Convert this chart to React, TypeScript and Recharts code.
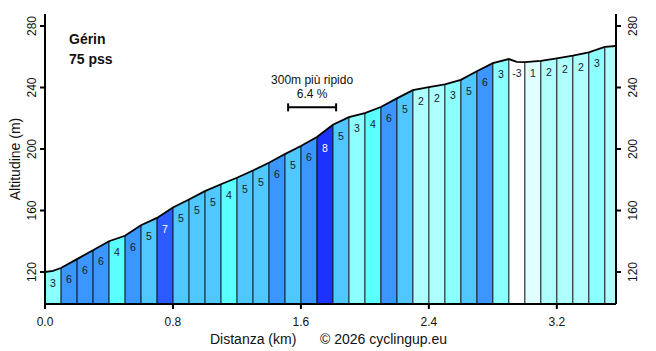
import React from 'react';
import { ComposedChart, Area, Line, XAxis, YAxis, ReferenceLine, Scatter } from 'recharts';

// ---- data ----
const distances = [
  0.0, 0.1, 0.2, 0.3, 0.4, 0.5, 0.6, 0.7, 0.8, 0.9,
  1.0, 1.1, 1.2, 1.3, 1.4, 1.5, 1.6, 1.7, 1.8, 1.9,
  2.0, 2.1, 2.2, 2.3, 2.4, 2.5, 2.6, 2.7, 2.8, 2.9,
  3.0, 3.1, 3.2, 3.3, 3.4, 3.5, 3.57,
];
const elevations = [
  120.0, 122.6, 128.4, 134.2, 140.0, 143.6, 150.4, 155.2, 162.0, 167.2,
  172.6, 177.1, 181.3, 186.0, 191.1, 196.7, 202.0, 207.8, 215.8, 220.7,
  223.4, 227.3, 232.9, 238.3, 240.2, 242.1, 245.0, 250.6, 255.8, 258.5,
  256.5, 257.3, 259.0, 260.8, 262.9, 266.4, 267.0,
];
// extra profile points inside segments
const detailDistances = [0.05, 2.95];
const detailElevations = [120.8, 256.7];
// gradient label for each segment (null = no label)
const grades = [
  3, 6, 6, 6, 4, 6, 5, 7, 5, 5,
  5, 4, 5, 5, 6, 5, 6, 8, 5, 3,
  4, 6, 5, 2, 2, 3, 5, 6, 3, -3,
  1, 2, 2, 2, 3, null,
];
const segmentColorGrades = [
  3, 6, 6, 6, 4, 6, 5, 7, 5, 5,
  5, 4, 5, 5, 6, 5, 6, 8, 5, 3,
  4, 6, 5, 2, 2, 3, 5, 6, 3, -3,
  1, 2, 2, 2, 3, 2,
];
const xTicks = [0, 0.8, 1.6, 2.4, 3.2];
const yTicks = [120, 160, 200, 240, 280];
const climbName = 'Gérin';
const climbScore = '75 pss';
const steepTitle = '300m più ripido';
const steepValue = '6.4 %';
const steepStart = 1.52;
const steepEnd = 1.82;
const steepLevel = 227.1;
const xTitle = 'Distanza (km)';
const yTitle = 'Altitudine (m)';
const credit = '© 2026 cyclingup.eu';

// ---- styles ----
const X_DOMAIN: [number, number] = [0, 3.57];
const Y_DOMAIN: [number, number] = [99.2, 287.8];
const FONT = '"Liberation Sans", Arial, Helvetica, sans-serif';
const W = 656;
const H = 351;

function gradeColor(g: number): string {
  if (g <= 0) return '#ffffff';
  if (g <= 1) return '#e0ffff';
  if (g <= 2) return '#b0ffff';
  if (g <= 3) return '#8cffff';
  if (g <= 4) return '#5affff';
  if (g <= 5) return '#50c8ff';
  if (g <= 6) return '#3c96ff';
  if (g <= 7) return '#2d5aff';
  return '#1e32ff';
}

const profile = [
  ...distances.map((d, i) => ({ x: d, y: elevations[i] })),
  ...detailDistances.map((d, i) => ({ x: d, y: detailElevations[i] })),
].sort((a, b) => a.x - b.x);

const segments = distances.slice(0, -1).map((d0, i) => {
  const d1 = distances[i + 1];
  return {
    color: gradeColor(segmentColorGrades[i]),
    data: profile.filter((p) => p.x >= d0 - 1e-9 && p.x <= d1 + 1e-9),
  };
});

const labelPoints = grades
  .map((g, i) =>
    g === null
      ? null
      : {
          x: (distances[i] + distances[i + 1]) / 2,
          y: Math.min(elevations[i], elevations[i + 1]),
          g,
        }
  )
  .filter((p) => p !== null) as { x: number; y: number; g: number }[];

const GradeLabel = (props: any) => {
  const { cx, cy, payload } = props;
  if (cx == null || cy == null) return null;
  const g = payload.g;
  return (
    <text
      x={cx}
      y={cy + 15}
      textAnchor="middle"
      fontFamily={FONT}
      fontSize={10.5}
      fill={g >= 7 ? '#ffffff' : '#1a1a2a'}
    >
      {g}
    </text>
  );
};

const LeftTick = (props: any) => {
  const { x, y, payload } = props;
  const bx = x - 1.5;
  return (
    <text x={bx} y={y} transform={`rotate(-90 ${bx} ${y})`} textAnchor="middle" fontFamily={FONT} fontSize={12} fill="#111">
      {payload.value}
    </text>
  );
};

const RightTick = (props: any) => {
  const { x, y, payload } = props;
  const bx = x + 14;
  return (
    <text x={bx} y={y} transform={`rotate(-90 ${bx} ${y})`} textAnchor="middle" fontFamily={FONT} fontSize={12} fill="#111">
      {payload.value}
    </text>
  );
};

const BottomTick = (props: any) => {
  const { x, y, payload } = props;
  return (
    <text x={x} y={y + 15} textAnchor="middle" fontFamily={FONT} fontSize={12} fill="#111">
      {Number(payload.value).toFixed(1)}
    </text>
  );
};

const BracketLabel = (props: any) => {
  const vb = props.viewBox || {};
  const cx = (vb.x ?? 0) + (vb.width ?? 0) / 2;
  const y = vb.y ?? 0;
  return (
    <g>
      <text x={cx} y={y - 23.5} textAnchor="middle" fontFamily={FONT} fontSize={12} fill="#111">
        {steepTitle}
      </text>
      <text x={cx} y={y - 9.5} textAnchor="middle" fontFamily={FONT} fontSize={12} fill="#111">
        {steepValue}
      </text>
    </g>
  );
};

export default function App() {
  const capHalf = 2.6;
  return (
    <div style={{ position: 'absolute', left: 0, top: 0, width: W, height: H, background: '#fff' }}>
      <ComposedChart width={W} height={H} margin={{ top: 14, right: 0, bottom: 0, left: 0 }}>
        <XAxis
          type="number"
          dataKey="x"
          domain={X_DOMAIN}
          allowDataOverflow
          ticks={xTicks}
          tick={<BottomTick />}
          tickSize={5}
          tickLine={{ stroke: '#000', strokeWidth: 2 }}
          axisLine={{ stroke: '#000', strokeWidth: 2 }}
          height={47}
          interval={0}
        />
        <XAxis
          xAxisId="top"
          orientation="top"
          type="number"
          dataKey="x"
          domain={X_DOMAIN}
          allowDataOverflow
          tick={false}
          tickLine={false}
          axisLine={{ stroke: '#000', strokeWidth: 2 }}
          height={0}
        />
        <YAxis
          type="number"
          dataKey="y"
          domain={Y_DOMAIN}
          allowDataOverflow
          ticks={yTicks}
          tick={<LeftTick />}
          tickSize={5}
          tickLine={{ stroke: '#000', strokeWidth: 2 }}
          axisLine={{ stroke: '#000', strokeWidth: 2 }}
          width={45}
          interval={0}
        />
        <YAxis
          yAxisId="right"
          orientation="right"
          type="number"
          dataKey="y"
          domain={Y_DOMAIN}
          allowDataOverflow
          ticks={yTicks}
          tick={<RightTick />}
          tickSize={5}
          tickLine={{ stroke: '#000', strokeWidth: 2 }}
          axisLine={{ stroke: '#000', strokeWidth: 2 }}
          width={40}
          interval={0}
        />
        {segments.map((s, i) => (
          <Area
            key={`seg-${i}`}
            data={s.data}
            dataKey="y"
            type="linear"
            stroke="none"
            fill={s.color}
            fillOpacity={1}
            baseValue={Y_DOMAIN[0]}
            isAnimationActive={false}
            dot={false}
            activeDot={false}
          />
        ))}
        {distances.slice(1, -1).map((d, i) => (
          <ReferenceLine
            key={`b-${i}`}
            segment={[
              { x: d, y: Y_DOMAIN[0] },
              { x: d, y: elevations[i + 1] },
            ]}
            stroke="#000"
            strokeWidth={1}
            ifOverflow="visible"
          />
        ))}
        <Line
          data={profile}
          dataKey="y"
          type="linear"
          stroke="#000"
          strokeWidth={1.8}
          dot={false}
          activeDot={false}
          isAnimationActive={false}
        />
        <Scatter data={labelPoints} dataKey="y" shape={<GradeLabel />} isAnimationActive={false} />
        <ReferenceLine
          segment={[
            { x: steepStart, y: steepLevel },
            { x: steepEnd, y: steepLevel },
          ]}
          stroke="#000"
          strokeWidth={2}
          ifOverflow="visible"
          label={<BracketLabel />}
        />
        <ReferenceLine
          segment={[
            { x: steepStart, y: steepLevel - capHalf },
            { x: steepStart, y: steepLevel + capHalf },
          ]}
          stroke="#000"
          strokeWidth={2}
          ifOverflow="visible"
        />
        <ReferenceLine
          segment={[
            { x: steepEnd, y: steepLevel - capHalf },
            { x: steepEnd, y: steepLevel + capHalf },
          ]}
          stroke="#000"
          strokeWidth={2}
          ifOverflow="visible"
        />
      </ComposedChart>
      <svg
        width={W}
        height={H}
        style={{ position: 'absolute', left: 0, top: 0, pointerEvents: 'none' }}
      >
        <text x={69} y={43.5} fontFamily={FONT} fontSize={14} fontWeight="bold" fill="#111">
          {climbName}
        </text>
        <text x={69} y={63.5} fontFamily={FONT} fontSize={14} fontWeight="bold" fill="#111">
          {climbScore}
        </text>
        <text x={210} y={343.5} fontFamily={FONT} fontSize={14} fill="#111">
          {xTitle}
        </text>
        <text x={320} y={343.5} fontFamily={FONT} fontSize={14} fill="#111">
          {credit}
        </text>
        <text
          x={20}
          y={159}
          transform="rotate(-90 20 159)"
          textAnchor="middle"
          fontFamily={FONT}
          fontSize={14}
          fill="#111"
        >
          {yTitle}
        </text>
      </svg>
    </div>
  );
}
